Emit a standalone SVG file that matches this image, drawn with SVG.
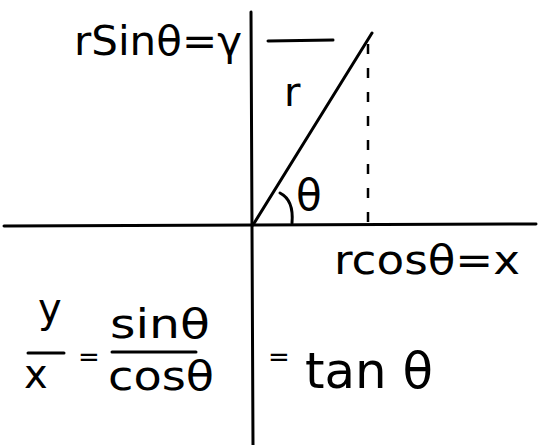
<svg xmlns="http://www.w3.org/2000/svg" width="541" height="445" viewBox="0 0 541 445">
<style>
.ax{stroke:#000;stroke-width:3;fill:none;stroke-linecap:round}
.dash{stroke:#000;stroke-width:2.5;fill:none;stroke-dasharray:10 14}
.t{font-family:"DejaVu Sans","Liberation Sans",sans-serif;fill:#000}
.big{font-size:40px}
.eq{font-size:26px}
</style>
<rect width="541" height="445" fill="#fff"/>
<g id="connectors">
<path class="ax" d="M251 12 L253 445"/>
<path class="ax" d="M4 226 L536 224"/>
<path class="ax" d="M253 225 L372 33"/>
<path class="dash" d="M368 44 L368 225"/>
<path class="ax" d="M268 41 L333 40"/>
<path class="ax" d="M280 193 Q294 200 292 223"/>
</g>
<g id="label-rsin"><text class="t big" x="74" y="55" textLength="168" lengthAdjust="spacingAndGlyphs">rSinθ=γ</text></g>
<g id="label-r"><text class="t big" x="284" y="106">r</text></g>
<g id="label-theta"><text class="t" font-size="42" x="296" y="210">θ</text></g>
<g id="label-rcos"><text class="t big" x="334" y="274" textLength="186" lengthAdjust="spacingAndGlyphs">rcosθ=x</text></g>
<g id="formula">
<text class="t big" x="38" y="322">y</text>
<path class="ax" d="M28 353 L64 353" stroke-width="2.5"/>
<text class="t big" x="24" y="388">x</text>
<text class="t eq" x="78" y="366">=</text>
<text class="t big" x="110" y="338" textLength="100" lengthAdjust="spacingAndGlyphs">sinθ</text>
<path class="ax" d="M112 352 L196 352" stroke-width="2.5"/>
<text class="t big" x="108" y="390" textLength="106" lengthAdjust="spacingAndGlyphs">cosθ</text>
<text class="t eq" x="268" y="366">=</text>
<text class="t" font-size="50" x="305" y="388" textLength="128" lengthAdjust="spacingAndGlyphs">tan θ</text>
</g>
</svg>
